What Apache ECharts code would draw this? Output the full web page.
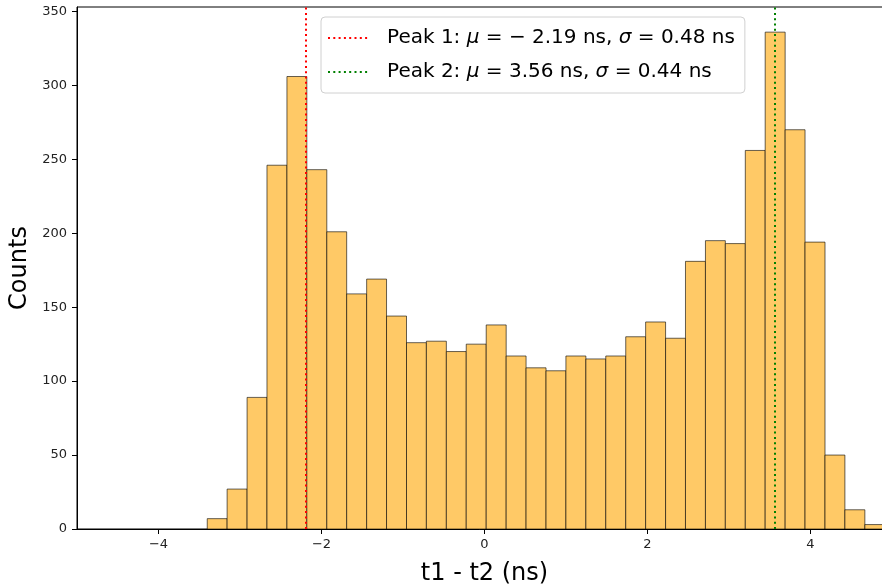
<!DOCTYPE html>
<html>
<head>
<meta charset="utf-8">
<script src="https://cdn.jsdelivr.net/npm/echarts@6/dist/echarts.min.js"></script>
<style>
html,body{margin:0;padding:0;background:#fff;}
#chart{width:882px;height:587px;}
</style>
</head>
<body>
<div id="chart"></div>
<script>
// Histogram bin edges (ns)
const binEdges = [-3.402, -3.158, -2.913, -2.669, -2.424, -2.180, -1.935, -1.691, -1.446, -1.202,
  -0.957, -0.713, -0.468, -0.224, 0.021, 0.266, 0.510, 0.755, 0.999, 1.244,
  1.488, 1.733, 1.977, 2.222, 2.466, 2.711, 2.955, 3.200, 3.444, 3.689,
  3.933, 4.178, 4.422, 4.667, 4.911];
// Counts per bin
const counts = [7, 27, 89, 246, 306, 243, 201, 159, 169, 144, 126, 127, 120, 125, 138, 117, 109,
  107, 117, 115, 117, 130, 140, 129, 181, 195, 193, 256, 336, 270, 194, 50, 13, 3];
// Fitted peak positions
const peakNames = ['Peak 1', 'Peak 2'];
const peakMu = [-2.19, 3.56];
const peakSigma = [0.48, 0.44];
const peakColors = ['#ff0000', '#008000'];
// Tick labels
const xTicks = [-4, -2, 0, 2, 4];
const yTicks = [0, 50, 100, 150, 200, 250, 300, 350];

const histData = counts.map((c, i) => [binEdges[i], binEdges[i + 1], c]);

const fmtMinus = v => String(v).replace('-', '\u2212');

const dotPath = 'path://M0 0h2v2h-2z M5.3 0h2v2h-2z M10.6 0h2v2h-2z M15.9 0h2v2h-2z M21.2 0h2v2h-2z M26.5 0h2v2h-2z M31.8 0h2v2h-2z M37.1 0h2v2h-2z';

const muText = v => (v < 0 ? '\u2212 ' + Math.abs(v).toFixed(2) : v.toFixed(2));
const legendPlain = i => peakNames[i] + ': \u03bc = ' + muText(peakMu[i]) + ' ns, \u03c3 = ' + peakSigma[i].toFixed(2) + ' ns';
const legendRich = i => '{t|' + peakNames[i] + ': }{i|\u03bc}{t| = ' + muText(peakMu[i]) + ' ns, }{i|\u03c3}{t| = ' + peakSigma[i].toFixed(2) + ' ns}';
const legendNames = peakMu.map((m, i) => legendPlain(i));

const peakSeries = peakMu.map((mu, i) => ({
  name: legendNames[i],
  type: 'line',
  data: [],
  symbol: 'none',
  color: peakColors[i],
  lineStyle: { color: peakColors[i], width: 2, type: [2, 3.3] },
  z: 10,
  markLine: {
    silent: true,
    symbol: 'none',
    label: { show: false },
    animation: false,
    lineStyle: { color: peakColors[i], width: 2, type: [2, 3.3], cap: 'butt' },
    data: [{ xAxis: mu }]
  }
}));

const chart = echarts.init(document.getElementById('chart'), null, { renderer: 'canvas' });
chart.setOption({
  animation: false,
  backgroundColor: '#ffffff',
  textStyle: { fontFamily: 'DejaVu Sans' },
  grid: {
    left: 77, top: 7, right: -10, bottom: 58,
    containLabel: false,
    outerBoundsMode: 'none',
    show: true, borderColor: '#000', borderWidth: 1, backgroundColor: 'transparent'
  },
  legend: {
    orient: 'vertical',
    left: 321, top: 17,
    padding: [9, 10, 9, 7],
    itemGap: 10,
    itemWidth: 41, itemHeight: 2,
    backgroundColor: 'rgba(255,255,255,0.8)',
    borderColor: '#d0d0d0', borderWidth: 1, borderRadius: 4,
    itemStyle: { borderWidth: 0 },
    lineStyle: { width: 0 },
    formatter: function (name) {
      const i = legendNames.indexOf(name);
      return legendRich(i);
    },
    textStyle: {
      fontFamily: 'DejaVu Sans', fontSize: 20, color: '#000',
      lineHeight: 24, padding: [0, 0, 0, 14],
      rich: {
        t: { fontFamily: 'DejaVu Sans', fontSize: 20, color: '#000', lineHeight: 24 },
        i: { fontFamily: 'DejaVu Sans', fontStyle: 'italic', fontSize: 20, color: '#000', lineHeight: 24 }
      }
    },
    data: legendNames.map(n => ({ name: n, icon: dotPath }))
  },
  xAxis: {
    type: 'value', min: -5, max: 5,
    name: 't1 - t2 (ns)', nameLocation: 'middle', nameGap: 33,
    nameTextStyle: { fontFamily: 'DejaVu Sans', fontSize: 24, color: '#000' },
    axisLine: { show: true, onZero: false, lineStyle: { color: '#000', width: 1 } },
    axisTick: { show: true, length: 5, customValues: xTicks, lineStyle: { color: '#000' } },
    axisLabel: { customValues: xTicks, margin: 9, fontSize: 13, color: '#222', fontFamily: 'DejaVu Sans', formatter: fmtMinus },
    splitLine: { show: false }
  },
  yAxis: {
    type: 'value', min: 0, max: 353,
    name: 'Counts', nameLocation: 'middle', nameGap: 45,
    nameTextStyle: { fontFamily: 'DejaVu Sans', fontSize: 24, color: '#000' },
    axisLine: { show: true, onZero: false, lineStyle: { color: '#000', width: 1 } },
    axisTick: { show: true, length: 5, customValues: yTicks, lineStyle: { color: '#000' } },
    axisLabel: { customValues: yTicks, margin: 10, fontSize: 13, color: '#222', fontFamily: 'DejaVu Sans' },
    splitLine: { show: false }
  },
  series: [{
    type: 'custom',
    name: 'hist',
    data: histData,
    encode: { x: [0, 1], y: 2 },
    renderItem: function (params, api) {
      const p0 = api.coord([api.value(0), api.value(2)]);
      const p1 = api.coord([api.value(1), 0]);
      return {
        type: 'rect',
        shape: { x: p0[0], y: p0[1], width: p1[0] - p0[0], height: p1[1] - p0[1] },
        style: { fill: '#FFC966', stroke: 'rgba(0,0,0,0.6)', lineWidth: 1 }
      };
    },
    z: 2
  }].concat(peakSeries)
});
</script>
</body>
</html>
